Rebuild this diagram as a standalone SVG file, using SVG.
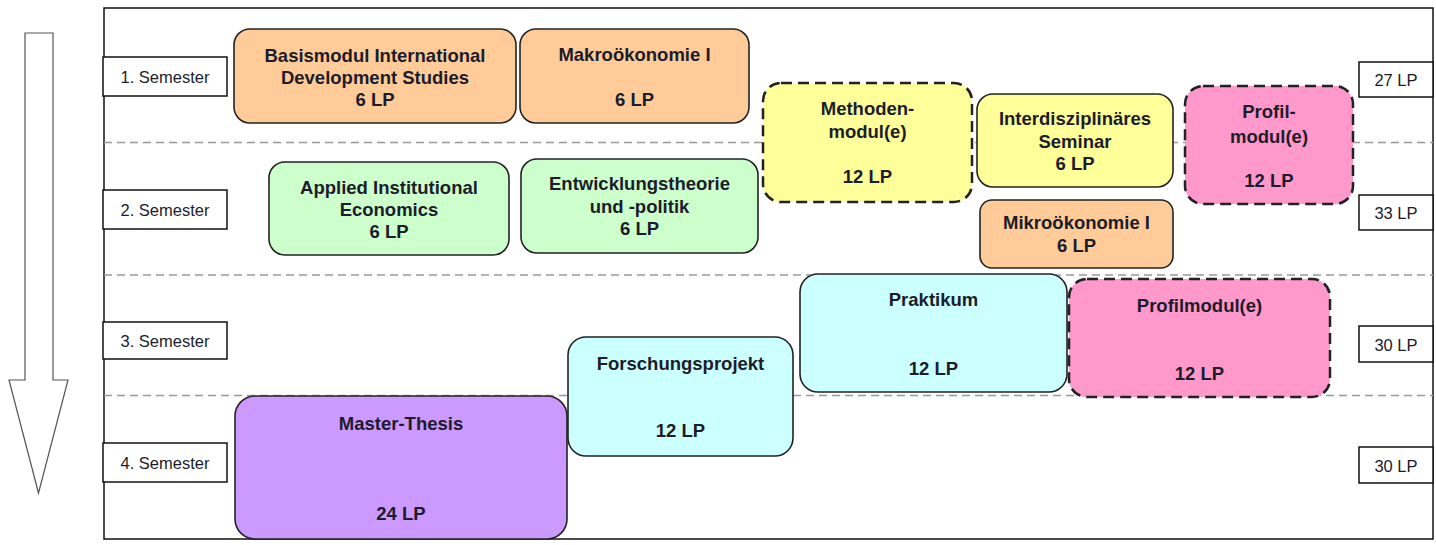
<svg xmlns="http://www.w3.org/2000/svg" width="1436" height="545" viewBox="0 0 1436 545">
<style>
.frame{fill:#fff;stroke:#111;stroke-width:1.5}
.sep{stroke:#999;stroke-width:1.5;stroke-dasharray:8 5;fill:none}
.lbl{fill:#fff;stroke:#111;stroke-width:1.5}
.lt{font-family:"Liberation Sans",Arial,sans-serif;font-size:16.5px;fill:#1c1c2a;text-anchor:middle}
.mod{stroke:#222;stroke-width:1.6}
.dash{stroke:#222;stroke-width:2.5;stroke-dasharray:11 6}
.mt{font-family:"Liberation Sans",Arial,sans-serif;font-size:18.5px;font-weight:bold;fill:#1c1c2a;text-anchor:middle}
.or{fill:#FFCC99}.gr{fill:#CCFFCC}.ye{fill:#FFFF99}.pk{fill:#FF99CC}.cy{fill:#CCFFFF}.pu{fill:#CC99FF}
</style>
<rect class="frame" x="104" y="8" width="1329" height="531"/>
<g id="separators">
<line class="sep" x1="104" y1="142.5" x2="1433" y2="142.5"/>
<line class="sep" x1="104" y1="275" x2="1433" y2="275"/>
<line class="sep" x1="104" y1="395.5" x2="1433" y2="395.5"/>
</g>
<g id="connectors"></g>
<g id="timeline-arrow">
<polygon points="25,33 53,33 53,380 68,380 38.5,493 9,380 25,380" fill="#fff" stroke="#555" stroke-width="1.2"/>
</g>
<g id="sem1"><rect class="lbl" x="103" y="57" width="124" height="39"/><text class="lt" x="165" y="83">1. Semester</text></g>
<g id="sem2"><rect class="lbl" x="103" y="190" width="124" height="39"/><text class="lt" x="165" y="216">2. Semester</text></g>
<g id="sem3"><rect class="lbl" x="103" y="322" width="124" height="37"/><text class="lt" x="165" y="347">3. Semester</text></g>
<g id="sem4"><rect class="lbl" x="103" y="443" width="124" height="39"/><text class="lt" x="165" y="469">4. Semester</text></g>
<g id="lp1"><rect class="lbl" x="1359" y="62" width="74" height="35"/><text class="lt" x="1396" y="86">27 LP</text></g>
<g id="lp2"><rect class="lbl" x="1359" y="195" width="74" height="35"/><text class="lt" x="1396" y="219">33 LP</text></g>
<g id="lp3"><rect class="lbl" x="1359" y="326" width="74" height="36"/><text class="lt" x="1396" y="351">30 LP</text></g>
<g id="lp4"><rect class="lbl" x="1359" y="447" width="74" height="36"/><text class="lt" x="1396" y="472">30 LP</text></g>
<g id="basismodul"><rect class="mod or" x="234" y="29" width="282" height="94" rx="16"/>
<text class="mt" x="375" y="62">Basismodul International</text><text class="mt" x="375" y="84">Development Studies</text><text class="mt" x="375" y="106">6 LP</text></g>
<g id="makro"><rect class="mod or" x="520" y="29" width="229" height="94" rx="16"/>
<text class="mt" x="634.5" y="61">Makroökonomie I</text><text class="mt" x="634.5" y="106">6 LP</text></g>
<g id="applied"><rect class="mod gr" x="269" y="162" width="240" height="93" rx="16"/>
<text class="mt" x="389" y="194">Applied Institutional</text><text class="mt" x="389" y="216">Economics</text><text class="mt" x="389" y="238">6 LP</text></g>
<g id="entwicklung"><rect class="mod gr" x="521" y="159" width="237" height="94" rx="16"/>
<text class="mt" x="639.5" y="190">Entwicklungstheorie</text><text class="mt" x="639.5" y="213">und -politik</text><text class="mt" x="639.5" y="235">6 LP</text></g>
<g id="methoden"><rect class="dash ye" x="763" y="83" width="209" height="119" rx="18"/>
<text class="mt" x="867.5" y="115">Methoden-</text><text class="mt" x="867.5" y="138">modul(e)</text><text class="mt" x="867.5" y="183">12 LP</text></g>
<g id="interdisz"><rect class="mod ye" x="977" y="94" width="196" height="93" rx="16"/>
<text class="mt" x="1075" y="125">Interdisziplinäres</text><text class="mt" x="1075" y="148">Seminar</text><text class="mt" x="1075" y="170">6 LP</text></g>
<g id="mikro"><rect class="mod or" x="980" y="200" width="193" height="68" rx="12"/>
<text class="mt" x="1076.5" y="229">Mikroökonomie I</text><text class="mt" x="1076.5" y="252">6 LP</text></g>
<g id="profil1"><rect class="dash pk" x="1185" y="86" width="168" height="118" rx="18"/>
<text class="mt" x="1269" y="118">Profil-</text><text class="mt" x="1269" y="143">modul(e)</text><text class="mt" x="1269" y="187">12 LP</text></g>
<g id="praktikum"><rect class="mod cy" x="800" y="274" width="267" height="118" rx="18"/>
<text class="mt" x="933.5" y="306">Praktikum</text><text class="mt" x="933.5" y="375">12 LP</text></g>
<g id="profil3"><rect class="dash pk" x="1069" y="279" width="261" height="118" rx="18"/>
<text class="mt" x="1199.5" y="312">Profilmodul(e)</text><text class="mt" x="1199.5" y="380">12 LP</text></g>
<g id="forschung"><rect class="mod cy" x="568" y="337" width="225" height="119" rx="18"/>
<text class="mt" x="680.5" y="370">Forschungsprojekt</text><text class="mt" x="680.5" y="437">12 LP</text></g>
<g id="thesis"><rect class="mod pu" x="235" y="396" width="332" height="143" rx="20"/>
<text class="mt" x="401" y="430">Master-Thesis</text><text class="mt" x="401" y="520">24 LP</text></g>
</svg>
